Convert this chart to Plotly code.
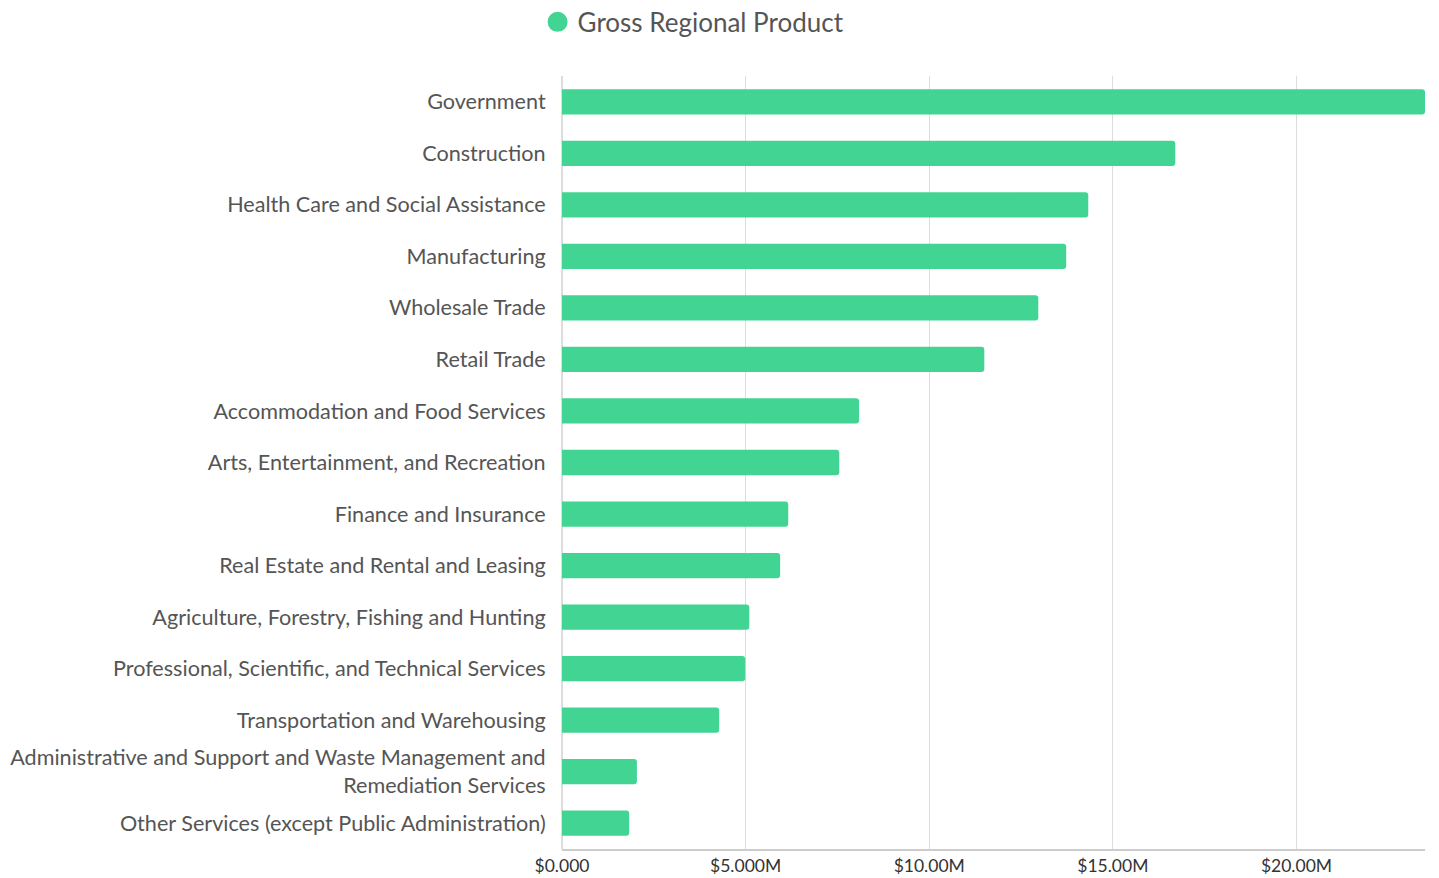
import plotly.graph_objects as go

industries = [
    "Government",
    "Construction",
    "Health Care and Social Assistance",
    "Manufacturing",
    "Wholesale Trade",
    "Retail Trade",
    "Accommodation and Food Services",
    "Arts, Entertainment, and Recreation",
    "Finance and Insurance",
    "Real Estate and Rental and Leasing",
    "Agriculture, Forestry, Fishing and Hunting",
    "Professional, Scientific, and Technical Services",
    "Transportation and Warehousing",
    "Administrative and Support and Waste Management and<br>Remediation Services",
    "Other Services (except Public Administration)",
]
grp = [23.5e6, 16.7e6, 14.33e6, 13.73e6, 12.97e6, 11.5e6, 8.09e6, 7.55e6,
       6.16e6, 5.94e6, 5.10e6, 4.99e6, 4.28e6, 2.04e6, 1.83e6]
tick_vals = [0, 5e6, 10e6, 15e6, 20e6]
tick_text = ["$0.000", "$5.000M", "$10.00M", "$15.00M", "$20.00M"]
green = "#42d493"

fig = go.Figure()
fig.add_trace(go.Bar(
    x=grp, y=industries, orientation="h", name="Gross Regional Product",
    marker=dict(color=green, cornerradius=3, line_width=0),
    showlegend=False,
))
# legend entry with a round swatch
fig.add_trace(go.Scatter(
    x=[None], y=[None], mode="markers", name="Gross Regional Product",
    marker=dict(color=green, size=16, symbol="circle", line=dict(color=green, width=4)),
    showlegend=True,
))

fig.update_layout(
    width=1439, height=878,
    font=dict(family="Lato", color="#555555"),
    paper_bgcolor="white", plot_bgcolor="white",
    margin=dict(l=562, r=14, t=76, b=29, autoexpand=False),
    bargap=0.51,
    legend=dict(orientation="h", xref="container", x=0.482, xanchor="center",
                yref="container", y=0.975, yanchor="middle",
                font=dict(size=26, color="#555555"), itemsizing="trace"),
    xaxis=dict(range=[0, grp[0]], tickvals=tick_vals, ticktext=tick_text,
               showgrid=True, gridcolor="#dddddd", gridwidth=1,
               zeroline=True, zerolinecolor="#dddddd",
               showline=True, linecolor="#cccccc", linewidth=2,
               tickfont=dict(size=17.5, color="#333333"), ticks="", fixedrange=True,
               automargin=False),
    yaxis=dict(autorange="reversed", tickfont=dict(size=21.6, color="#555555"),
               ticks="outside", ticklen=11, tickcolor="rgba(0,0,0,0)", showgrid=False,
               automargin=False, fixedrange=True),
)

fig.write_html("out.html", config={"displayModeBar": False},
               post_script="document.body.style.margin='0';")
